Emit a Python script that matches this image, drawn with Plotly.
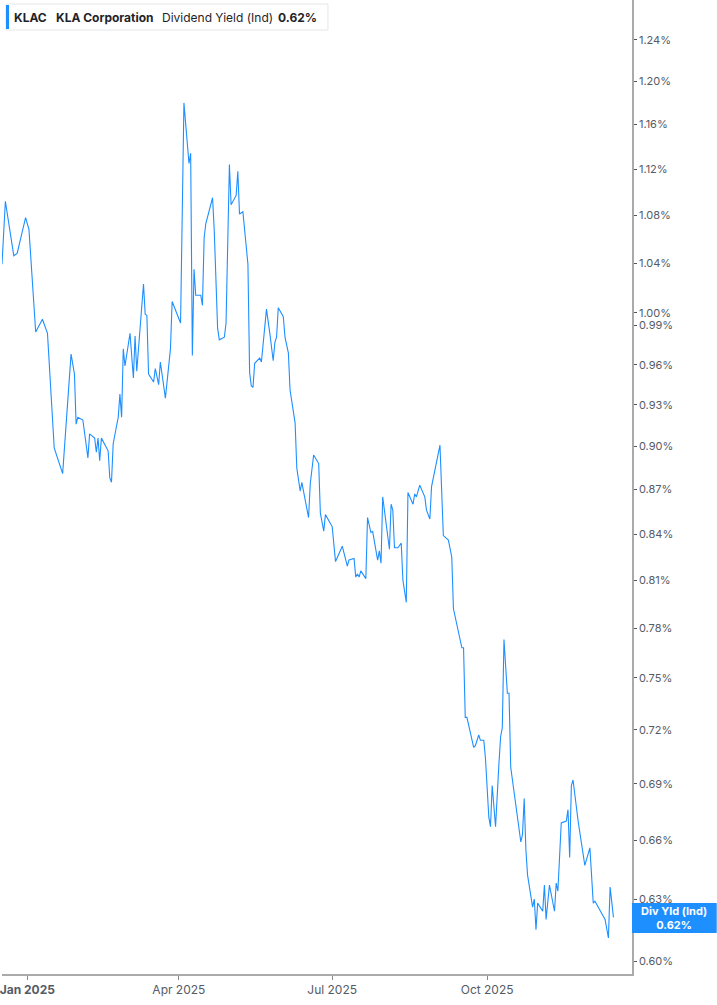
import plotly.graph_objects as go

# KLAC indicated dividend yield (%)
dates = [
    "2024-12-17", "2024-12-19", "2024-12-24", "2024-12-26", "2024-12-31",
    "2025-01-02", "2025-01-06", "2025-01-10", "2025-01-13", "2025-01-17",
    "2025-01-22", "2025-01-27", "2025-01-29", "2025-01-30", "2025-01-31",
    "2025-02-03", "2025-02-06", "2025-02-07", "2025-02-10", "2025-02-11",
    "2025-02-12", "2025-02-13", "2025-02-14", "2025-02-18", "2025-02-19",
    "2025-02-20", "2025-02-21", "2025-02-24", "2025-02-25", "2025-02-26",
    "2025-02-27", "2025-02-28", "2025-03-03", "2025-03-05", "2025-03-06",
    "2025-03-07", "2025-03-11", "2025-03-12", "2025-03-13", "2025-03-14",
    "2025-03-17", "2025-03-18", "2025-03-20", "2025-03-21", "2025-03-24",
    "2025-03-26", "2025-03-27", "2025-03-28", "2025-03-31", "2025-04-02",
    "2025-04-04", "2025-04-07", "2025-04-08", "2025-04-09", "2025-04-10",
    "2025-04-11", "2025-04-14", "2025-04-15", "2025-04-16", "2025-04-17",
    "2025-04-21", "2025-04-22", "2025-04-24", "2025-04-25", "2025-04-28",
    "2025-04-29", "2025-05-01", "2025-05-02", "2025-05-05", "2025-05-06",
    "2025-05-07", "2025-05-09", "2025-05-12", "2025-05-13", "2025-05-14",
    "2025-05-15", "2025-05-16", "2025-05-19", "2025-05-20", "2025-05-23",
    "2025-05-25", "2025-05-27", "2025-05-28", "2025-05-29", "2025-05-30",
    "2025-06-02", "2025-06-03", "2025-06-05", "2025-06-06", "2025-06-09",
    "2025-06-10", "2025-06-12", "2025-06-13", "2025-06-17", "2025-06-18",
    "2025-06-20", "2025-06-23", "2025-06-24", "2025-06-26", "2025-06-27",
    "2025-07-01", "2025-07-03", "2025-07-07", "2025-07-10", "2025-07-11",
    "2025-07-14", "2025-07-15", "2025-07-16", "2025-07-17", "2025-07-18",
    "2025-07-21", "2025-07-22", "2025-07-24", "2025-07-25", "2025-07-28",
    "2025-07-29", "2025-07-30", "2025-07-31", "2025-08-04", "2025-08-05",
    "2025-08-06", "2025-08-07", "2025-08-09", "2025-08-11", "2025-08-12",
    "2025-08-14", "2025-08-15", "2025-08-18", "2025-08-19", "2025-08-20",
    "2025-08-22", "2025-08-25", "2025-08-26", "2025-08-28", "2025-08-29",
    "2025-09-03", "2025-09-05", "2025-09-08", "2025-09-10", "2025-09-11",
    "2025-09-16", "2025-09-17", "2025-09-18", "2025-09-19", "2025-09-23",
    "2025-09-24", "2025-09-26", "2025-09-27", "2025-09-29", "2025-09-30",
    "2025-10-02", "2025-10-03", "2025-10-04", "2025-10-06", "2025-10-08",
    "2025-10-09", "2025-10-10", "2025-10-11", "2025-10-13", "2025-10-14",
    "2025-10-15", "2025-10-17", "2025-10-21", "2025-10-22", "2025-10-23",
    "2025-10-24", "2025-10-25", "2025-10-28", "2025-10-29", "2025-10-30",
    "2025-10-31", "2025-11-03", "2025-11-04", "2025-11-05", "2025-11-07",
    "2025-11-10", "2025-11-11", "2025-11-12", "2025-11-14", "2025-11-17",
    "2025-11-18", "2025-11-19", "2025-11-20", "2025-11-21", "2025-11-24",
    "2025-11-28", "2025-12-01", "2025-12-03", "2025-12-04", "2025-12-06",
    "2025-12-09", "2025-12-10", "2025-12-12", "2025-12-13", "2025-12-15",
]
yields = [
    1.039, 1.092, 1.046, 1.048, 1.078,
    1.068, 0.985, 0.995, 0.984, 0.899,
    0.881, 0.968, 0.953, 0.916, 0.921,
    0.919, 0.892, 0.909, 0.906, 0.896,
    0.906, 0.890, 0.906, 0.897, 0.878,
    0.875, 0.902, 0.921, 0.938, 0.921,
    0.972, 0.959, 0.984, 0.950, 0.982,
    0.955, 1.023, 0.999, 0.998, 0.953,
    0.947, 0.957, 0.945, 0.962, 0.935,
    0.963, 0.972, 1.009, 0.999, 0.992,
    1.180, 1.125, 1.134, 0.967, 1.035,
    1.014, 1.014, 1.006, 1.061, 1.073,
    1.095, 1.067, 0.988, 0.979, 0.981,
    0.992, 1.124, 1.089, 1.097, 1.118,
    1.081, 1.083, 1.039, 0.954, 0.944,
    0.943, 0.961, 0.965, 0.962, 1.003,
    0.984, 0.963, 0.977, 0.981, 1.004,
    0.997, 0.981, 0.969, 0.941, 0.917,
    0.885, 0.869, 0.875, 0.851, 0.874,
    0.894, 0.888, 0.854, 0.842, 0.853,
    0.845, 0.822, 0.832, 0.819, 0.823,
    0.824, 0.812, 0.814, 0.812, 0.816,
    0.811, 0.851, 0.841, 0.842, 0.823,
    0.829, 0.821, 0.865, 0.830, 0.860,
    0.856, 0.831, 0.831, 0.834, 0.810,
    0.796, 0.868, 0.860, 0.867, 0.865,
    0.873, 0.865, 0.856, 0.850, 0.872,
    0.901, 0.839, 0.836, 0.825, 0.792,
    0.768, 0.768, 0.727, 0.727, 0.710,
    0.711, 0.717, 0.714, 0.714, 0.704,
    0.672, 0.667, 0.689, 0.667, 0.701,
    0.716, 0.721, 0.773, 0.741, 0.741,
    0.699, 0.686, 0.659, 0.663, 0.682,
    0.655, 0.642, 0.626, 0.630, 0.615,
    0.628, 0.624, 0.637, 0.620, 0.637,
    0.624, 0.638, 0.634, 0.669, 0.670,
    0.676, 0.651, 0.689, 0.692, 0.670,
    0.647, 0.656, 0.628, 0.629, 0.626,
    0.621, 0.620, 0.611, 0.636, 0.621,
]

y_ticks = [0.60, 0.63, 0.66, 0.69, 0.72, 0.75, 0.78, 0.81, 0.84, 0.87, 0.90,
           0.93, 0.96, 0.99, 1.00, 1.04, 1.08, 1.12, 1.16, 1.20, 1.24]
y_tick_labels = [f"{v:.2f}%" for v in y_ticks]

x_ticks = ["2025-01-01", "2025-04-01", "2025-07-01", "2025-10-01"]
x_tick_labels = ["<b>Jan 2025</b>", "Apr 2025", "Jul 2025", "Oct 2025"]

last_value = 0.62
BLUE = "#1e8fff"
FONT = "Inter, Roboto, sans-serif"

# plot area in pixels, used to place the overlay boxes
W, H = 632, 974


def px_x(p):
    return p / W


def px_y(p):
    return 1 - p / H


fig = go.Figure(
    go.Scatter(
        x=dates,
        y=yields,
        mode="lines",
        line=dict(color=BLUE, width=1.1),
        hoverinfo="skip",
    )
)

fig.update_layout(
    width=717,
    height=1005,
    margin=dict(l=0, r=85, t=0, b=31),
    paper_bgcolor="white",
    plot_bgcolor="white",
    showlegend=False,
    font=dict(family=FONT, size=12, color="#555b66"),
)
fig.update_xaxes(
    type="date",
    range=["2024-12-17", "2025-12-26"],
    tickvals=x_ticks,
    ticktext=x_tick_labels,
    ticks="outside",
    ticklen=4,
    tickcolor="#888",
    ticklabeloverflow="allow",
    showgrid=False,
    zeroline=False,
    showline=True,
    linecolor="#aaaaaa",
    linewidth=1.5,
    tickfont=dict(size=12, color="#555b66"),
)
fig.update_yaxes(
    type="log",
    side="right",
    range=[-0.2263, 0.1071],
    tickvals=y_ticks,
    ticktext=y_tick_labels,
    ticks="outside",
    ticklen=3,
    tickcolor="#555",
    showgrid=False,
    zeroline=False,
    showline=True,
    linecolor="#aaaaaa",
    linewidth=1.5,
    tickfont=dict(size=11, color="#555b66"),
)

# legend-style header box
fig.add_shape(type="rect", xref="paper", yref="paper",
              x0=px_x(4), x1=px_x(327), y0=px_y(30), y1=px_y(4),
              line=dict(color="#e4e6ea", width=1), fillcolor="white", layer="above")
fig.add_shape(type="rect", xref="paper", yref="paper",
              x0=px_x(4), x1=px_x(7), y0=px_y(29), y1=px_y(5),
              line=dict(width=0), fillcolor=BLUE, layer="above")
header = [
    (10, "<b>KLAC</b>"),
    (52, "<b>KLA Corporation</b>"),
    (158, "Dividend Yield (Ind)"),
    (275, f"<b>{last_value:.2f}%</b>"),
]
for x_px, text in header:
    fig.add_annotation(xref="paper", yref="paper", x=px_x(x_px), y=px_y(17),
                       xanchor="left", yanchor="middle", text=text, showarrow=False,
                       font=dict(family=FONT, size=12, color="#1f2329"))

# last value tag on the right axis
fig.add_shape(type="rect", xref="paper", yref="paper",
              x0=1.0, x1=717 / W, y0=px_y(933), y1=px_y(903),
              line=dict(width=0), fillcolor=BLUE, layer="above")
fig.add_annotation(xref="paper", yref="paper", x=(W + 717) / 2 / W, y=px_y(918),
                   xanchor="center", yanchor="middle", showarrow=False,
                   text=f"<b>Div Yld (Ind)</b><br><b>{last_value:.2f}%</b>",
                   font=dict(family=FONT, size=11, color="white"))

# drop the default page margin so the figure sits at the window's top-left corner
fig.write_html(
    "out.html",
    config={"displayModeBar": False},
    post_script="document.body.style.margin='0';document.body.style.overflow='hidden';",
)
